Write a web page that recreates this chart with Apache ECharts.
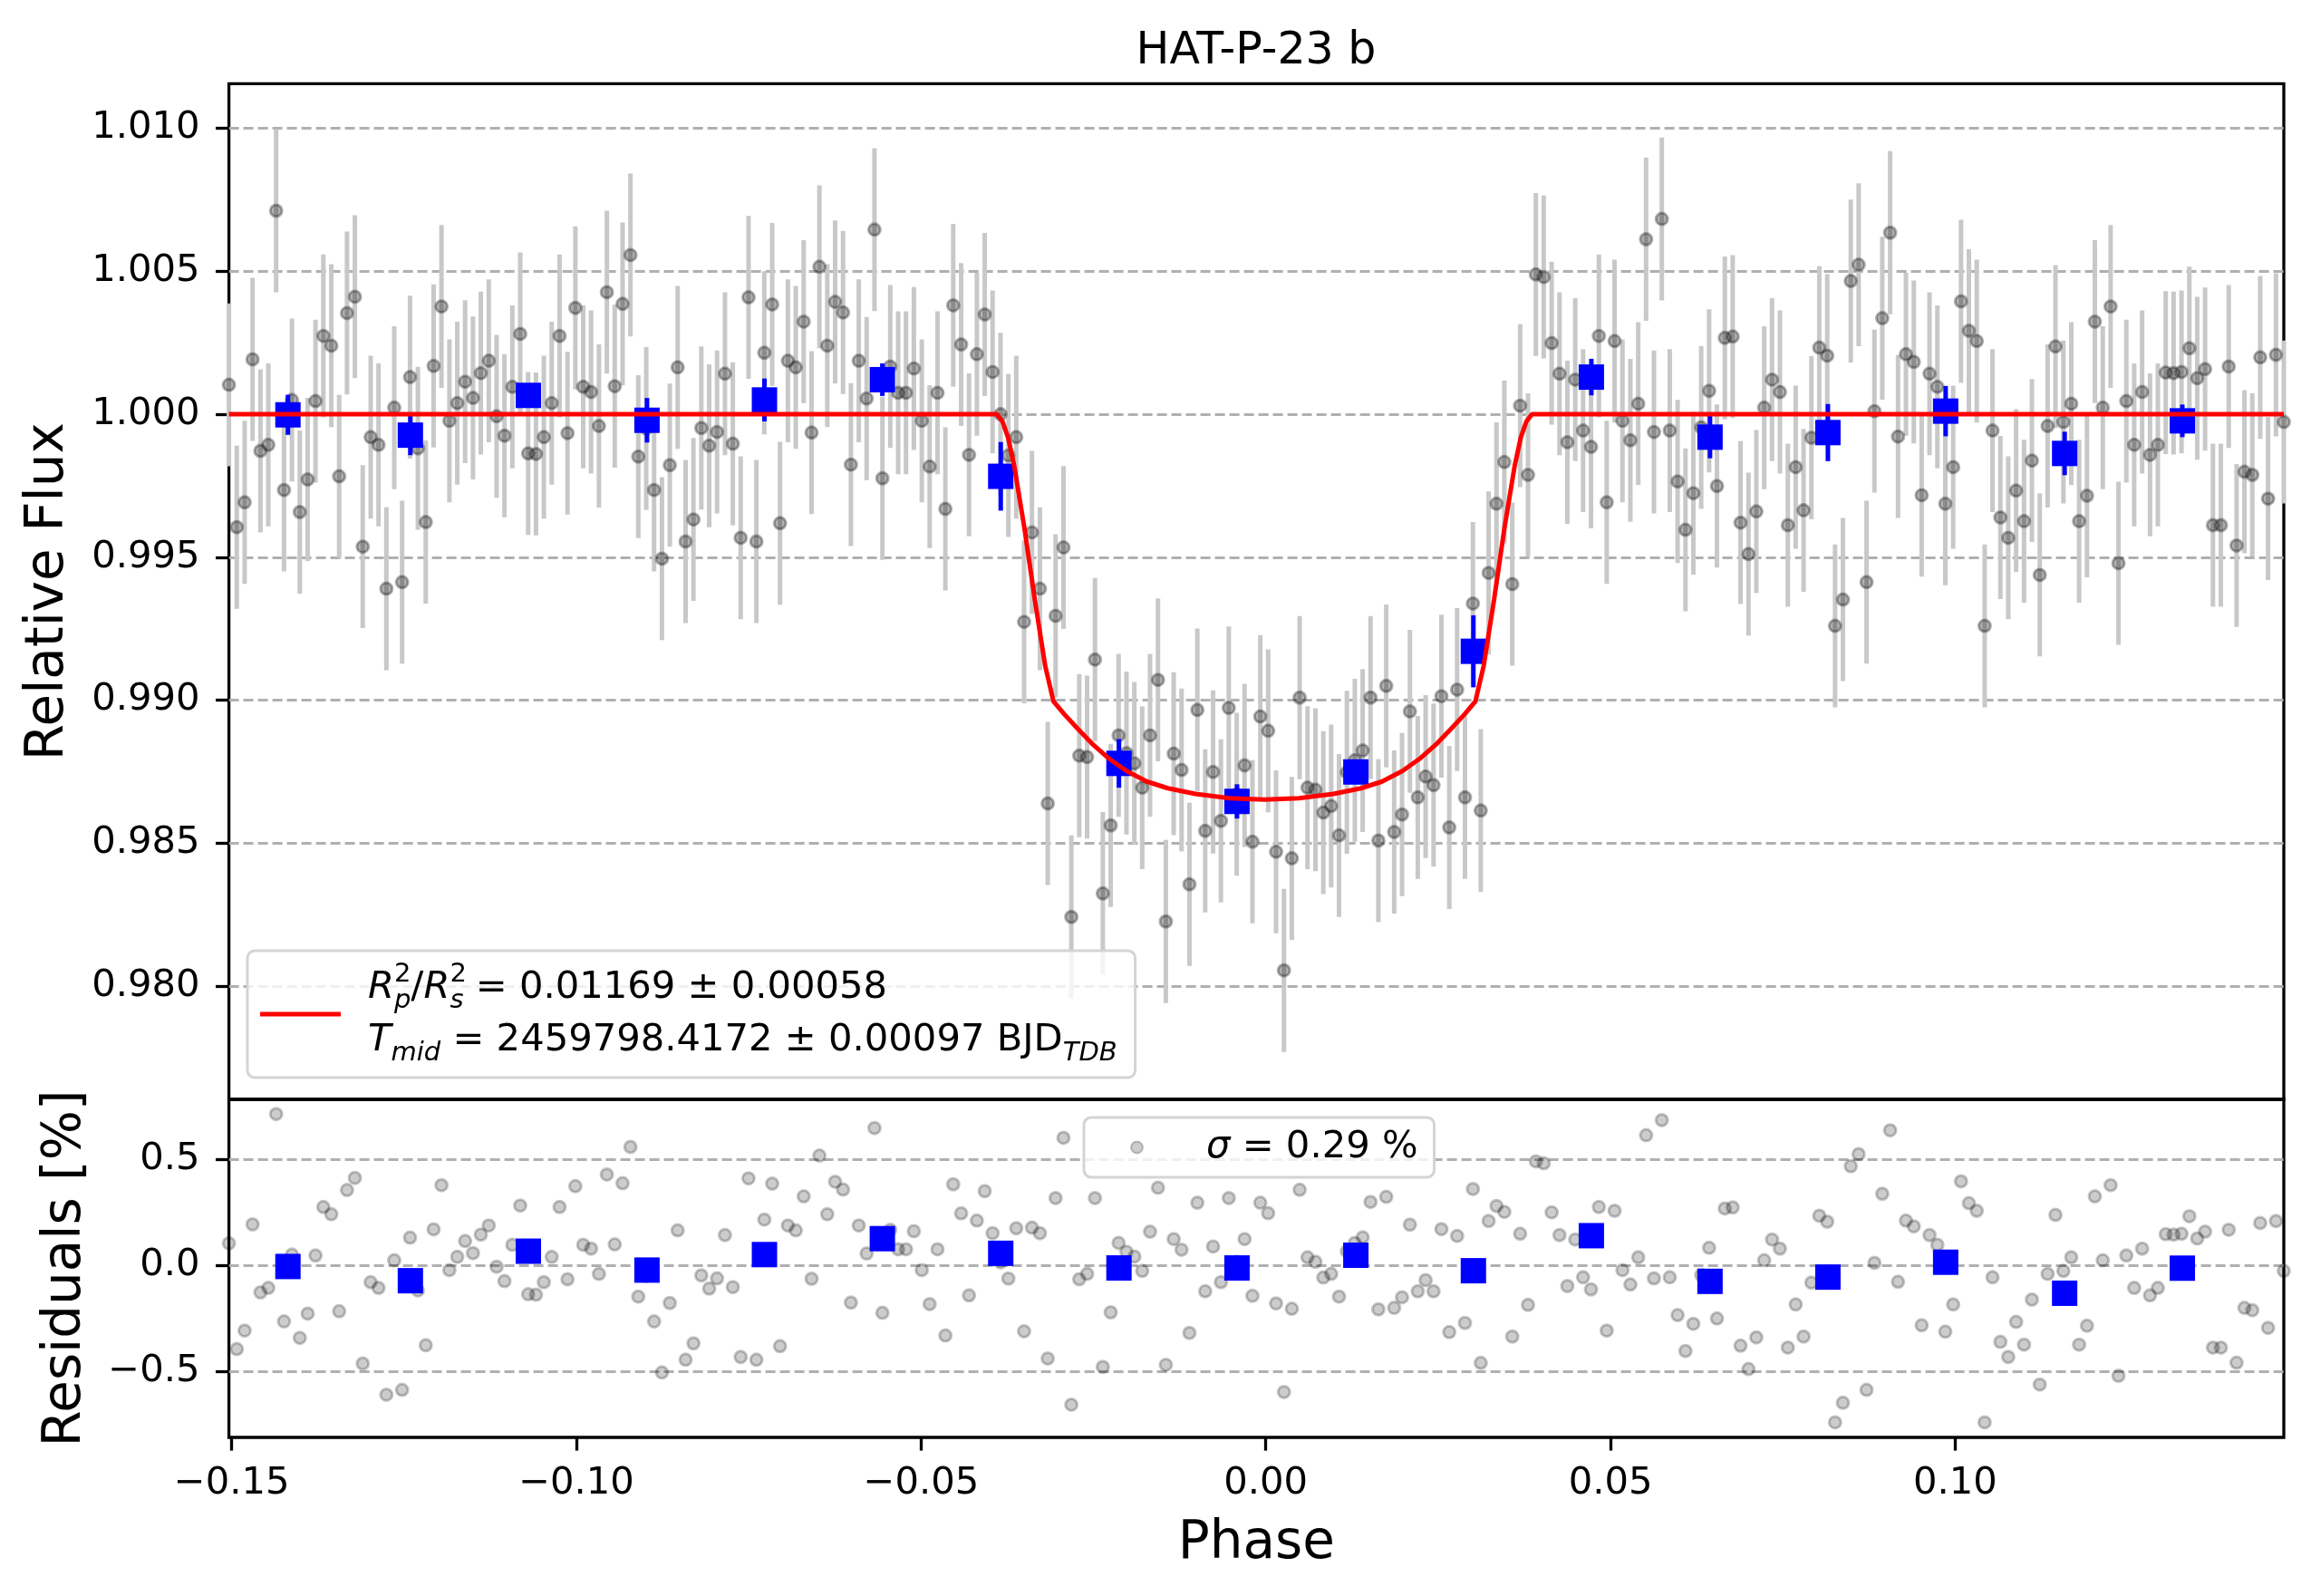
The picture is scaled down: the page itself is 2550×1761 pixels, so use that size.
<!DOCTYPE html>
<html><head><meta charset="utf-8">
<script src="https://cdn.jsdelivr.net/npm/echarts@6/dist/echarts.min.js"></script>
<style>html,body{margin:0;padding:0;background:#fff}#c{width:2550px;height:1761px}</style>
</head><body><div id="c"></div>
<script>
// ---------- data ----------
const phase = [
-0.15040,-0.14926,-0.14812,-0.14697,-0.14583,-0.14469,-0.14355,-0.14241,-0.14126,-0.14012,
-0.13898,-0.13784,-0.13670,-0.13555,-0.13441,-0.13327,-0.13213,-0.13099,-0.12984,-0.12870,
-0.12756,-0.12642,-0.12528,-0.12413,-0.12299,-0.12185,-0.12071,-0.11957,-0.11842,-0.11728,
-0.11614,-0.11500,-0.11386,-0.11271,-0.11157,-0.11043,-0.10929,-0.10815,-0.10700,-0.10586,
-0.10472,-0.10358,-0.10244,-0.10129,-0.10015,-0.09901,-0.09787,-0.09673,-0.09558,-0.09444,
-0.09330,-0.09216,-0.09102,-0.08987,-0.08873,-0.08759,-0.08645,-0.08531,-0.08416,-0.08302,
-0.08188,-0.08074,-0.07960,-0.07845,-0.07731,-0.07617,-0.07503,-0.07389,-0.07274,-0.07160,
-0.07046,-0.06932,-0.06818,-0.06703,-0.06589,-0.06475,-0.06361,-0.06247,-0.06132,-0.06018,
-0.05904,-0.05790,-0.05676,-0.05561,-0.05447,-0.05333,-0.05219,-0.05105,-0.04990,-0.04876,
-0.04762,-0.04648,-0.04534,-0.04419,-0.04305,-0.04191,-0.04077,-0.03963,-0.03848,-0.03734,
-0.03620,-0.03506,-0.03392,-0.03277,-0.03163,-0.03049,-0.02935,-0.02821,-0.02706,-0.02592,
-0.02478,-0.02364,-0.02250,-0.02135,-0.02021,-0.01907,-0.01793,-0.01679,-0.01564,-0.01450,
-0.01336,-0.01222,-0.01108,-0.00993,-0.00879,-0.00765,-0.00651,-0.00537,-0.00422,-0.00308,
-0.00194,-0.00080,0.00034,0.00149,0.00263,0.00377,0.00491,0.00605,0.00720,0.00834,
0.00948,0.01062,0.01176,0.01291,0.01405,0.01519,0.01633,0.01747,0.01862,0.01976,
0.02090,0.02204,0.02318,0.02433,0.02547,0.02661,0.02775,0.02889,0.03004,0.03118,
0.03232,0.03346,0.03460,0.03575,0.03689,0.03803,0.03917,0.04031,0.04146,0.04260,
0.04374,0.04488,0.04602,0.04717,0.04831,0.04945,0.05059,0.05173,0.05288,0.05402,
0.05516,0.05630,0.05744,0.05859,0.05973,0.06087,0.06201,0.06315,0.06430,0.06544,
0.06658,0.06772,0.06886,0.07001,0.07115,0.07229,0.07343,0.07457,0.07572,0.07686,
0.07800,0.07914,0.08028,0.08143,0.08257,0.08371,0.08485,0.08599,0.08714,0.08828,
0.08942,0.09056,0.09170,0.09285,0.09399,0.09513,0.09627,0.09741,0.09856,0.09970,
0.10084,0.10198,0.10312,0.10427,0.10541,0.10655,0.10769,0.10883,0.10998,0.11112,
0.11226,0.11340,0.11454,0.11569,0.11683,0.11797,0.11911,0.12025,0.12140,0.12254,
0.12368,0.12482,0.12596,0.12711,0.12825,0.12939,0.13053,0.13167,0.13282,0.13396,
0.13510,0.13624,0.13738,0.13853,0.13967,0.14081,0.14195,0.14309,0.14424,0.14538,
0.14652,0.14766];

const flux = [
1.00103,0.99605,0.99692,1.00192,0.99872,0.99893,1.00712,0.99735,1.00050,0.99658,
0.99772,1.00046,1.00274,1.00240,0.99783,1.00354,1.00411,0.99537,0.99920,0.99893,
0.99390,1.00023,0.99413,1.00130,0.99881,0.99623,1.00169,1.00377,0.99977,1.00039,
1.00114,1.00057,1.00144,1.00187,0.99993,0.99925,1.00096,1.00281,0.99863,0.99861,
0.99920,1.00039,1.00274,0.99934,1.00372,1.00096,1.00078,0.99959,1.00427,1.00098,
1.00386,1.00557,0.99852,0.99950,0.99735,0.99495,0.99822,1.00164,0.99555,0.99632,
0.99952,0.99890,0.99938,1.00142,0.99897,0.99568,1.00409,0.99555,1.00215,1.00384,
0.99619,1.00187,1.00164,1.00324,0.99936,1.00516,1.00240,1.00393,1.00356,0.99824,
1.00187,1.00055,1.00646,0.99776,1.00167,1.00075,1.00075,1.00160,0.99977,0.99817,
1.00075,0.99669,1.00381,1.00244,0.99858,1.00210,1.00349,1.00148,1.00000,0.99856,
0.99920,0.99274,0.99587,0.99390,0.98639,0.99295,0.99534,0.98242,0.98806,0.98801,
0.99142,0.98324,0.98562,0.98877,0.98815,0.98779,0.98694,0.98877,0.99071,0.98226,
0.98813,0.98756,0.98356,0.98966,0.98543,0.98749,0.98578,0.98973,0.98671,0.98772,
0.98505,0.98943,0.98893,0.98470,0.98055,0.98447,0.99009,0.98694,0.98687,0.98607,
0.98630,0.98527,0.98748,0.98790,0.98824,0.99009,0.98509,0.99050,0.98539,0.98600,
0.98961,0.98660,0.98733,0.98703,0.99014,0.98555,0.99037,0.98660,0.99338,0.98614,
0.99445,0.99687,0.99833,0.99406,1.00030,0.99788,1.00489,1.00480,1.00249,1.00142,
0.99902,1.00121,0.99943,0.99886,1.00274,0.99692,1.00256,0.99977,0.99909,1.00037,
1.00612,0.99938,1.00683,0.99943,0.99765,0.99596,0.99724,0.99954,1.00082,0.99749,
1.00267,1.00272,0.99621,0.99511,0.99660,1.00023,1.00121,1.00078,0.99612,0.99815,
0.99664,0.99918,1.00233,1.00205,0.99260,0.99352,1.00466,1.00523,0.99413,1.00011,
1.00336,1.00635,0.99922,1.00210,1.00183,0.99717,1.00142,1.00096,0.99687,0.99815,
1.00395,1.00292,1.00256,0.99260,0.99943,0.99639,0.99568,0.99733,0.99626,0.99838,
0.99438,0.99959,1.00237,0.99973,1.00037,0.99626,0.99715,1.00324,1.00023,1.00377,
0.99479,1.00046,0.99893,1.00078,0.99858,0.99893,1.00146,1.00144,1.00148,1.00231,
1.00126,1.00158,0.99612,0.99612,1.00167,0.99541,0.99799,0.99788,1.00199,0.99705,
1.00208,0.99973];

const fluxErr = 0.00285;   // size of the grey error bars (same for every point)

const resid = [
0.103,-0.395,-0.308,0.192,-0.128,-0.107,0.712,-0.265,0.050,-0.342,
-0.228,0.046,0.274,0.240,-0.217,0.354,0.411,-0.463,-0.080,-0.107,
-0.610,0.023,-0.587,0.130,-0.119,-0.377,0.169,0.377,-0.023,0.039,
0.114,0.057,0.144,0.187,-0.007,-0.075,0.096,0.281,-0.137,-0.139,
-0.080,0.039,0.274,-0.066,0.372,0.096,0.078,-0.041,0.427,0.098,
0.386,0.557,-0.148,-0.050,-0.265,-0.505,-0.178,0.164,-0.445,-0.368,
-0.048,-0.110,-0.062,0.142,-0.103,-0.432,0.409,-0.445,0.215,0.384,
-0.381,0.187,0.164,0.324,-0.064,0.516,0.240,0.393,0.356,-0.176,
0.187,0.055,0.646,-0.224,0.167,0.075,0.075,0.160,-0.023,-0.183,
0.075,-0.331,0.381,0.244,-0.142,0.210,0.349,0.151,0.013,-0.063,
0.174,-0.311,0.177,0.151,-0.439,0.316,0.600,-0.657,-0.066,-0.041,
0.316,-0.479,-0.222,0.105,0.063,0.041,-0.027,0.158,0.365,-0.469,
0.123,0.073,-0.319,0.294,-0.123,0.088,-0.080,0.316,0.016,0.123,
-0.144,0.294,0.245,-0.180,-0.597,-0.205,0.355,0.037,0.016,-0.058,
-0.041,-0.148,0.066,0.105,0.131,0.298,-0.208,0.322,-0.201,-0.151,
0.191,-0.123,-0.070,-0.123,0.170,-0.315,0.138,-0.272,0.359,-0.460,
0.208,0.279,0.251,-0.336,0.148,-0.187,0.489,0.480,0.249,0.142,
-0.098,0.121,-0.057,-0.114,0.274,-0.308,0.256,-0.023,-0.091,0.037,
0.612,-0.062,0.683,-0.057,-0.235,-0.404,-0.276,-0.046,0.082,-0.251,
0.267,0.272,-0.379,-0.489,-0.340,0.023,0.121,0.078,-0.388,-0.185,
-0.336,-0.082,0.233,0.205,-0.740,-0.648,0.466,0.523,-0.587,0.011,
0.336,0.635,-0.078,0.210,0.183,-0.283,0.142,0.096,-0.313,-0.185,
0.395,0.292,0.256,-0.740,-0.057,-0.361,-0.432,-0.267,-0.374,-0.162,
-0.562,-0.041,0.237,-0.027,0.037,-0.374,-0.285,0.324,0.023,0.377,
-0.521,0.046,-0.107,0.078,-0.142,-0.107,0.146,0.144,0.148,0.231,
0.126,0.158,-0.388,-0.388,0.167,-0.459,-0.201,-0.212,0.199,-0.295,
0.208,-0.027];

const binPhase = [-0.14184,-0.12408,-0.10697,-0.08976,-0.07272,-0.05562,-0.03845,-0.02130,-0.00418,
                  0.01306,0.03011,0.04722,0.06443,0.08153,0.09861,0.11587,0.13294];
const binFlux  = [0.99998,0.99927,1.00066,0.99979,1.00050,1.00121,0.99783,0.98779,0.98646,
                  0.98749,0.99171,1.00130,0.99920,0.99936,1.00011,0.99863,0.99977];
const binErr   = [0.00070,0.00070,0.00040,0.00078,0.00075,0.00057,0.00120,0.00085,0.00060,
                  0.00040,0.00126,0.00064,0.00074,0.00100,0.00088,0.00076,0.00057];
const binResid = [-0.006,-0.073,0.066,-0.023,0.050,0.125,0.056,-0.013,-0.013,
                  0.047,-0.026,0.139,-0.076,-0.056,0.014,-0.132,-0.014];

const modelPhase = [-0.15040,-0.0390,-0.0382,-0.0374,-0.0365,-0.0350,-0.0335,-0.0320,-0.0308,-0.0292,
  -0.0272,-0.0252,-0.0227,-0.0202,-0.0172,-0.0142,-0.0102,-0.0052,-0.0002,0.0048,0.0098,0.0138,0.0168,
  0.0198,0.0223,0.0248,0.0268,0.0288,0.0304,0.0316,0.0331,0.0346,0.0361,0.0370,0.0378,0.0386,0.14766];
const modelFlux = [1.0,1.0,0.99975,0.9992,0.9982,0.9960,0.9935,0.9912,0.98996,0.98950,
  0.98898,0.98848,0.98795,0.98752,0.98715,0.98692,0.98672,0.98657,0.98652,0.98657,0.98672,0.98692,0.98715,
  0.98752,0.98795,0.98848,0.98898,0.98950,0.98996,0.9912,0.9935,0.9960,0.9982,0.9992,0.99975,1.0,1.0];

const yTicksFlux  = [0.980,0.985,0.990,0.995,1.000,1.005,1.010];
const yTicksResid = [-0.5,0.0,0.5];
const xTicks      = [-0.15,-0.10,-0.05,0.00,0.05,0.10];

const TITLE = 'HAT-P-23 b';
const DEPTH = '0.01169 ± 0.00058';
const TMID  = '2459798.4172 ± 0.00097';
const SIGMA = '0.29 %';

// ---------- chart ----------
const FONT = 'DejaVu Sans';
const minus = s => s.replace('-', '\u2212');
const chart = echarts.init(document.getElementById('c'));

const errRender = (color, width) => function (params, api) {
  const x = api.value(0), y = api.value(1), e = api.value(2);
  const a = api.coord([x, y - e]), b = api.coord([x, y + e]);
  return { type: 'line', shape: { x1: a[0], y1: a[1], x2: b[0], y2: b[1] },
           style: { stroke: color, lineWidth: width } };
};

const tickStyle = { show: true, length: 14.6, inside: false, lineStyle: { color: '#000', width: 3.3 } };
const gridLine = { show: true, lineStyle: { color: '#b0b0b0', width: 3, type: [11, 5] } };
const labelStyle = { color: '#000', fontSize: 41.7, fontFamily: FONT };
const nameStyle = { color: '#000', fontSize: 58, fontFamily: FONT };
const noLine = { show: false, onZero: false };

const XMIN = -0.15040, XMAX = 0.14766;

const option = {
  animation: false,
  backgroundColor: '#fff',
  textStyle: { fontFamily: FONT },
  graphic: [{
    type: 'text', x: 1386, y: 57, z: 10,
    style: { text: TITLE, fontSize: 49, fontFamily: FONT, fill: '#000', align: 'center', verticalAlign: 'middle' }
  }],
  grid: [
    { left: 252.6, top: 92.4, width: 2267.4, height: 1120.6, show: true, borderColor: '#000', borderWidth: 3.3, backgroundColor: 'transparent' },
    { left: 252.6, top: 1213, width: 2267.4, height: 373, show: true, borderColor: '#000', borderWidth: 3.3, backgroundColor: 'transparent' }
  ],
  xAxis: [
    { type: 'value', gridIndex: 0, min: XMIN, max: XMAX, position: 'bottom',
      axisLine: noLine, axisTick: { show: false }, axisLabel: { show: false }, splitLine: { show: false } },
    { type: 'value', gridIndex: 1, min: XMIN, max: XMAX, position: 'bottom',
      axisLine: noLine,
      axisTick: Object.assign({ customValues: xTicks }, tickStyle),
      axisLabel: Object.assign({ customValues: xTicks, margin: 30,
        formatter: v => minus(v.toFixed(2)) }, labelStyle),
      splitLine: { show: false },
      name: 'Phase', nameLocation: 'middle', nameGap: 89, nameTextStyle: nameStyle }
  ],
  yAxis: [
    { type: 'value', gridIndex: 0, min: 0.97604, max: 1.01156, position: 'left',
      axisLine: noLine,
      axisTick: Object.assign({ customValues: yTicksFlux }, tickStyle),
      axisLabel: Object.assign({ customValues: yTicksFlux, margin: 32,
        formatter: v => v.toFixed(3) }, labelStyle),
      splitLine: gridLine,
      name: 'Relative Flux', nameLocation: 'middle', nameGap: 170, nameRotate: 90, nameTextStyle: nameStyle },
    { type: 'value', gridIndex: 1, min: -0.8108, max: 0.7810, position: 'left',
      axisLine: noLine,
      axisTick: Object.assign({ customValues: yTicksResid }, tickStyle),
      axisLabel: Object.assign({ customValues: yTicksResid, margin: 32,
        formatter: v => minus(v.toFixed(1)) }, labelStyle),
      splitLine: gridLine,
      name: 'Residuals [%]', nameLocation: 'middle', nameGap: 151, nameRotate: 90, nameTextStyle: nameStyle }
  ],
  legend: [
    { data: [{ name: 'Model', icon: 'rect' }], selectedMode: false, orient: 'vertical',
      left: 273, top: 1049, padding: [12, 20, 12, 14],
      itemWidth: 89, itemHeight: 5, symbolKeepAspect: false,
      backgroundColor: 'rgba(255,255,255,0.8)', borderColor: '#d4d4d4', borderWidth: 3, borderRadius: 8,
      formatter: () => '{g| }{it|R}{sup|2}{sub|p}{n|/}{it|R}{sup|2}{sub|s}{n| = ' + DEPTH + '}\n' +
                       '{g| }{it|T}{sub|mid}{n| = ' + TMID + ' BJD}{sub|TDB}',
      textStyle: { color: '#000', fontFamily: FONT, fontSize: 41.7,
        rich: {
          g:   { width: 25, fontSize: 41.7, lineHeight: 58 },
          n:   { fontSize: 41.7, fontFamily: FONT, color: '#000', lineHeight: 58 },
          it:  { fontSize: 41.7, fontFamily: FONT, fontStyle: 'italic', color: '#000', lineHeight: 58 },
          sup: { fontSize: 29, fontFamily: FONT, color: '#000', lineHeight: 30, verticalAlign: 'top', width: 0 },
          sub: { fontSize: 29, fontFamily: FONT, fontStyle: 'italic', color: '#000', lineHeight: 38, verticalAlign: 'bottom' }
        } } },
    { data: [{ name: 'Residuals', icon: 'circle' }], selectedMode: false,
      left: 1196, top: 1233, padding: [12, 18, 12, 51],
      itemWidth: 13, itemHeight: 13,
      backgroundColor: 'rgba(255,255,255,0.8)', borderColor: '#d4d4d4', borderWidth: 3, borderRadius: 8,
      formatter: () => '{g| }{it|σ}{n| = ' + SIGMA + '}',
      textStyle: { color: '#000', fontFamily: FONT, fontSize: 41.7,
        rich: {
          g:  { width: 65, fontSize: 41.7, lineHeight: 50 },
          n:  { fontSize: 41.7, fontFamily: FONT, color: '#000', lineHeight: 50 },
          it: { fontSize: 41.7, fontFamily: FONT, fontStyle: 'italic', color: '#000', lineHeight: 50 }
        } } }
  ],
  series: [
    { name: 'FluxErr', type: 'custom', xAxisIndex: 0, yAxisIndex: 0, z: 1,
      renderItem: errRender('#c8c8c8', 5), encode: { x: 0, y: 1 },
      data: phase.map((p, i) => [p, flux[i], fluxErr]) },
    { name: 'Flux', type: 'scatter', xAxisIndex: 0, yAxisIndex: 0, z: 2,
      symbol: 'circle', symbolSize: 13,
      itemStyle: { color: 'rgba(0,0,0,0.3)', borderColor: 'rgba(0,0,0,0.3)', borderWidth: 3, opacity: 1 },
      data: phase.map((p, i) => [p, flux[i]]) },
    { name: 'BinErr', type: 'custom', xAxisIndex: 0, yAxisIndex: 0, z: 3,
      renderItem: errRender('#0000ff', 5), encode: { x: 0, y: 1 },
      data: binPhase.map((p, i) => [p, binFlux[i], binErr[i]]) },
    { name: 'Binned', type: 'scatter', xAxisIndex: 0, yAxisIndex: 0, z: 4,
      symbol: 'rect', symbolSize: 28, itemStyle: { color: '#0000ff', opacity: 1 },
      data: binPhase.map((p, i) => [p, binFlux[i]]) },
    { name: 'Model', type: 'line', xAxisIndex: 0, yAxisIndex: 0, z: 5,
      symbol: 'none', showSymbol: false, smooth: false,
      lineStyle: { color: '#ff0000', width: 5 }, itemStyle: { color: '#ff0000' },
      data: modelPhase.map((p, i) => [p, modelFlux[i]]) },
    { name: 'Residuals', type: 'scatter', xAxisIndex: 1, yAxisIndex: 1, z: 2,
      symbol: 'circle', symbolSize: 13,
      itemStyle: { color: 'rgba(0,0,0,0.2)', borderColor: 'rgba(0,0,0,0.22)', borderWidth: 3, opacity: 1 },
      data: phase.map((p, i) => [p, resid[i]]) },
    { name: 'BinnedResid', type: 'scatter', xAxisIndex: 1, yAxisIndex: 1, z: 4,
      symbol: 'rect', symbolSize: 28, itemStyle: { color: '#0000ff', opacity: 1 },
      data: binPhase.map((p, i) => [p, binResid[i]]) }
  ]
};
chart.setOption(option);
</script>
</body></html>
